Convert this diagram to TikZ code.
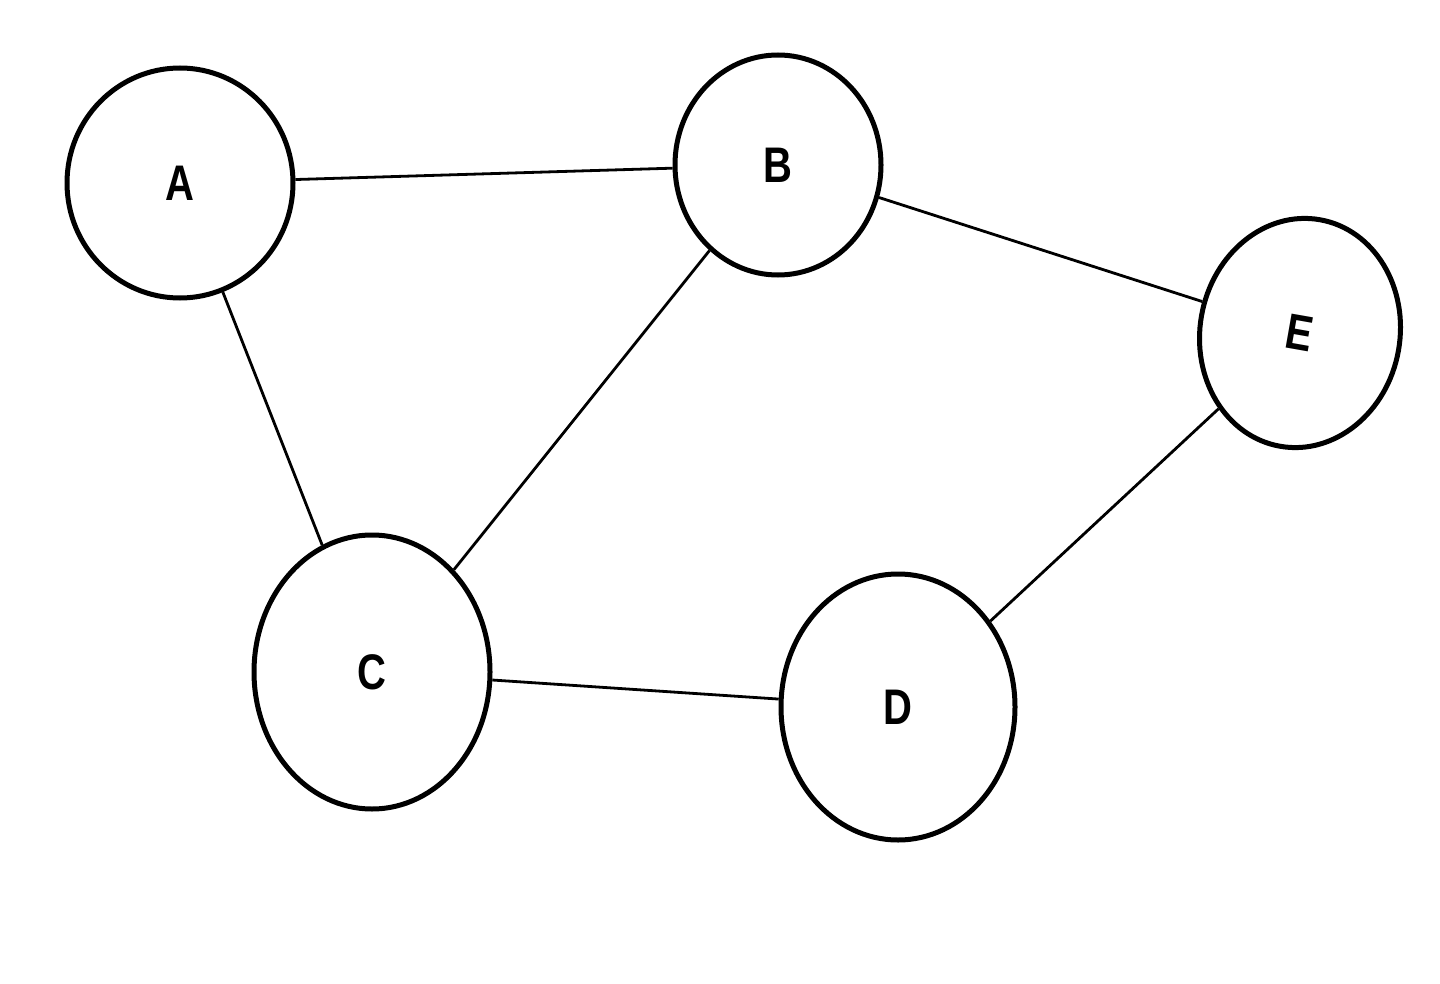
\documentclass[tikz,border=0pt]{standalone}
\usepackage{fontspec}
\setmainfont{Liberation Sans}
\usetikzlibrary{shapes.geometric}
\begin{document}
\begin{tikzpicture}[x=1pt,y=-1pt,
  vert/.style={ellipse,draw,line width=5pt,inner sep=0pt,font=\fontsize{50}{50}\selectfont\bfseries},
  edge/.style={line width=2.8pt}]
\useasboundingbox (0,0) rectangle (1440,984);
\fill[white] (0,0) rectangle (1440,984);
\node[vert,minimum width=226pt,minimum height=230pt] (A) at (180,183) {\scalebox{0.8}[1]{A}};
\node[vert,minimum width=206pt,minimum height=220pt] (B) at (778,165) {\scalebox{0.8}[1]{B}};
\node[vert,minimum width=200pt,minimum height=230pt,rotate=-10] (E) at (1300,333) {\scalebox{0.8}[1]{E}};
\node[vert,minimum width=236pt,minimum height=274pt] (C) at (372,672) {\scalebox{0.8}[1]{C}};
\node[vert,minimum width=234pt,minimum height=266pt] (D) at (898,707) {\scalebox{0.8}[1]{D}};
\draw[edge] (A) -- (B);
\draw[edge] (A) -- (C);
\draw[edge] (B) -- (C);
\draw[edge] (B) -- (E);
\draw[edge] (C) -- (D);
\draw[edge] (D) -- (E);
\end{tikzpicture}
\end{document}
